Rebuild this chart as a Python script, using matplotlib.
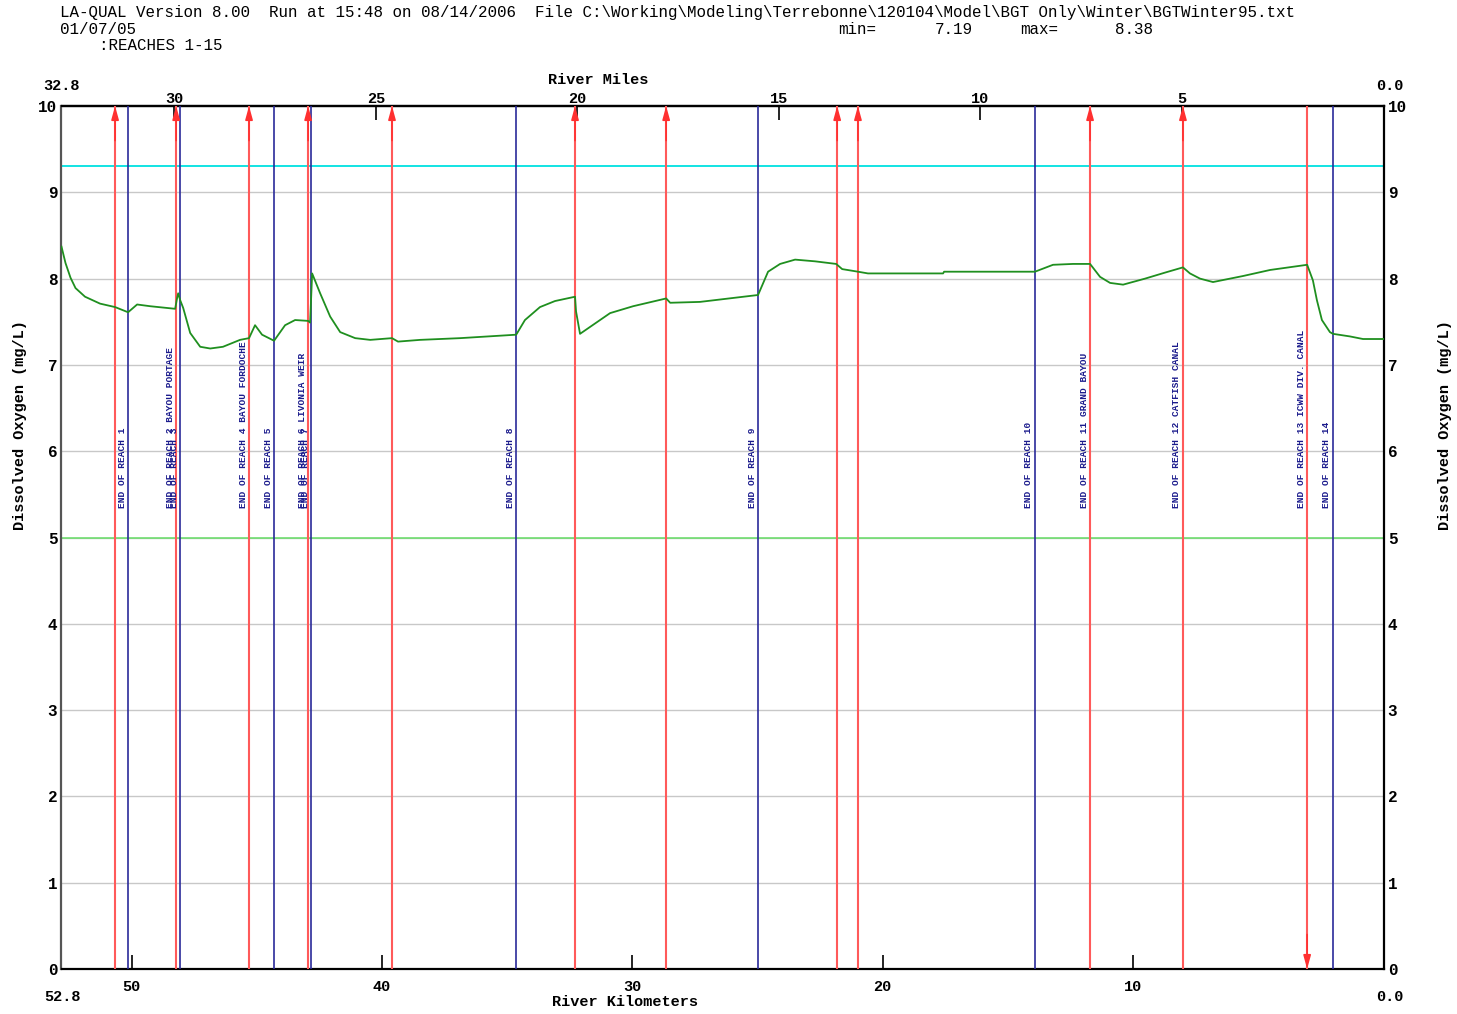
import matplotlib
matplotlib.use("Agg")
import matplotlib.pyplot as plt
import numpy as np

# ---------------- data ----------------
header_line1 = "LA-QUAL Version 8.00  Run at 15:48 on 08/14/2006  File C:\\Working\\Modeling\\Terrebonne\\120104\\Model\\BGT Only\\Winter\\BGTWinter95.txt"
header_date = "01/07/05"
header_reaches = ":REACHES 1-15"
do_min = "7.19"
do_max = "8.38"

km_max = 52.8
mi_max = 32.8

# dissolved oxygen profile (river km, mg/L)
do_km = [52.80, 52.64, 52.44, 52.24, 51.86, 51.26, 50.66, 50.14, 49.78, 49.26,
         48.26, 48.18, 48.14, 48.06, 47.94, 47.66, 47.26, 46.86, 46.35, 45.67,
         45.31, 45.07, 44.79, 44.31, 43.87, 43.47, 42.95, 42.87, 42.79, 42.47,
         42.07, 41.67, 41.07, 40.47, 39.60, 39.36, 38.48, 36.88, 34.64, 34.29,
         33.69, 33.09, 32.29, 32.25, 32.09, 31.69, 30.89, 29.97, 28.65, 28.49,
         27.30, 24.98, 24.58, 24.10, 23.50, 22.70, 21.86, 21.62, 20.99, 20.59,
         17.59, 17.55, 13.92, 13.20, 12.40, 11.72, 11.32, 10.92, 10.40, 9.52,
         8.72, 8.01, 7.73, 7.33, 6.81, 5.61, 4.53, 3.05, 2.82, 2.66,
         2.46, 2.14, 2.02, 1.34, 0.82, 0.00]
do_val = [8.37, 8.18, 8.01, 7.89, 7.79, 7.71, 7.67, 7.61, 7.70, 7.68,
          7.65, 7.78, 7.83, 7.75, 7.66, 7.37, 7.21, 7.19, 7.21, 7.29,
          7.31, 7.46, 7.35, 7.28, 7.46, 7.52, 7.51, 7.49, 8.06, 7.83,
          7.56, 7.38, 7.31, 7.29, 7.31, 7.27, 7.29, 7.31, 7.35, 7.52,
          7.67, 7.74, 7.79, 7.62, 7.36, 7.44, 7.60, 7.68, 7.77, 7.72,
          7.73, 7.81, 8.08, 8.17, 8.22, 8.20, 8.17, 8.11, 8.08, 8.06,
          8.06, 8.08, 8.08, 8.16, 8.17, 8.17, 8.02, 7.95, 7.93, 8.00,
          8.07, 8.13, 8.06, 8.00, 7.96, 8.03, 8.10, 8.16, 7.98, 7.75,
          7.52, 7.38, 7.36, 7.33, 7.30, 7.30]

# inflow (up arrow) and withdrawal (down arrow) locations, river km
inflow_km = [50.66, 48.22, 45.31, 42.95, 39.60, 32.29, 28.65, 21.82, 20.99, 11.72, 8.01]
withdrawal_km = [3.05]

# end-of-reach markers (blue lines), river km
reach_end_km = [50.14, 48.06, 44.31, 42.83, 34.64, 24.98, 13.92, 2.02]

# reach labels and the river km of the line they annotate
reach_labels = ["END OF REACH 1", "END OF REACH 2 BAYOU PORTAGE", "END OF REACH 3",
                "END OF REACH 4 BAYOU FORDOCHE", "END OF REACH 5",
                "END OF REACH 6 LIVONIA WEIR", "END OF REACH 7", "END OF REACH 8",
                "END OF REACH 9", "END OF REACH 10", "END OF REACH 11 GRAND BAYOU",
                "END OF REACH 12 CATFISH CANAL", "END OF REACH 13 ICWW DIV. CANAL",
                "END OF REACH 14"]
reach_label_km = [50.14, 48.22, 48.06, 45.31, 44.31, 42.95, 42.83, 34.64,
                  24.98, 13.92, 11.72, 8.01, 3.05, 2.02]

criterion_do = 5.0
saturation_do = 9.3

km_ticks = [50, 40, 30, 20, 10]
mi_ticks = [30, 25, 20, 15, 10, 5]
y_ticks = list(range(0, 11))

# ---------------- figure ----------------
MONO = ["Liberation Mono", "DejaVu Sans Mono"]
fig = plt.figure(figsize=(14.57, 10.14), dpi=100)
W, H = 1457, 1014
ax = fig.add_axes([61.5 / W, 1 - 969 / H, (1383.5 - 61.5) / W, (969 - 106) / H])

ax.set_xlim(km_max, 0)
ax.set_ylim(0, 10)

# grid
for yv in y_ticks[1:-1]:
    ax.axhline(yv, color="#c8c8c8", lw=1.0, zorder=1)

ax.axhline(saturation_do, color="#00e0e0", lw=1.3, zorder=2)
ax.axhline(criterion_do, color="#66dd66", lw=1.1, zorder=2)

# inflow arrows
for k in inflow_km:
    ax.plot([k, k], [0, 10], color="#ff5a5a", lw=1.5, zorder=3)
    ax.annotate("", xy=(k, 10), xytext=(k, 9.6),
                arrowprops=dict(arrowstyle="-|>,head_length=0.8,head_width=0.22",
                                color="#ff3030", lw=1.2, shrinkA=0, shrinkB=0),
                zorder=4)
for k in withdrawal_km:
    ax.plot([k, k], [0, 10], color="#ff5a5a", lw=1.5, zorder=3)
    ax.annotate("", xy=(k, 0), xytext=(k, 0.4),
                arrowprops=dict(arrowstyle="-|>,head_length=0.8,head_width=0.22",
                                color="#ff3030", lw=1.2, shrinkA=0, shrinkB=0),
                zorder=4)

for k in reach_end_km:
    ax.axvline(k, color="#2a2a9a", lw=1.2, zorder=3)

for lab, k in zip(reach_labels, reach_label_km):
    ax.annotate(lab, xy=(k, 5.34), xytext=(-6, 0), textcoords="offset pixels",
                rotation=90, ha="center", va="bottom", color="#1a1a8c",
                fontsize=6.8, fontweight="bold", family=MONO, zorder=5)

ax.plot(do_km, do_val, color="#1f8f1f", lw=1.3, zorder=6)

# spines
for s in ["top", "bottom", "right"]:
    ax.spines[s].set_color("black")
    ax.spines[s].set_linewidth(1.6)
ax.spines["left"].set_color("#555555")
ax.spines["left"].set_linewidth(1.6)

# bottom km ticks
ax.set_xticks(km_ticks)
ax.set_xticklabels([str(t) for t in km_ticks], family=MONO, fontsize=11, fontweight="bold")
ax.tick_params(axis="x", direction="in", length=10, width=1.2, pad=8, color="black")

# y ticks both sides
ax.set_yticks(y_ticks)
ax.set_yticklabels([str(t) for t in y_ticks], family=MONO, fontsize=11.5, fontweight="bold")
ax.tick_params(axis="y", length=0, pad=3, left=True, right=True, labelleft=True, labelright=True)
for lbl in ax.get_yticklabels(which="both"):
    lbl.set_family(MONO)

# top miles axis
ratio = mi_max / km_max
sec = ax.secondary_xaxis("top", functions=(lambda x: x * ratio, lambda m: m / ratio))
sec.set_xticks(mi_ticks)
sec.set_xticklabels([str(t) for t in mi_ticks], family=MONO, fontsize=11, fontweight="bold")
sec.tick_params(direction="in", length=10, width=1.2, pad=0, color="black")
sec.spines["top"].set_linewidth(1.6)

# corner labels
def ftext(x, y, s, **kw):
    fig.text(x / W, 1 - y / H, s, family=MONO, **kw)

ftext(62, 86, f"{mi_max:.1f}", fontsize=11, fontweight="bold", ha="center", va="center")
ftext(1390, 86, "0.0", fontsize=11, fontweight="bold", ha="center", va="center")
ftext(62, 997, f"{km_max:.1f}", fontsize=11, fontweight="bold", ha="center", va="center")
ftext(1390, 997, "0.0", fontsize=11, fontweight="bold", ha="center", va="center")
ftext(598, 80, "River Miles", fontsize=11, fontweight="bold", ha="center", va="center")
ftext(625, 1002, "River Kilometers", fontsize=11, fontweight="bold", ha="center", va="center")
ftext(20, 425, "Dissolved Oxygen (mg/L)", fontsize=11, fontweight="bold",
      ha="center", va="center", rotation=90)
ftext(1445, 425, "Dissolved Oxygen (mg/L)", fontsize=11, fontweight="bold",
      ha="center", va="center", rotation=90)

# header
ftext(60, 12, header_line1, fontsize=11.4, ha="left", va="center")
ftext(60, 29, header_date, fontsize=11.4, ha="left", va="center")
ftext(838, 29, "min=", fontsize=11.4, ha="left", va="center")
ftext(935, 29, do_min, fontsize=11.4, ha="left", va="center")
ftext(1020, 29, "max=", fontsize=11.4, ha="left", va="center")
ftext(1115, 29, do_max, fontsize=11.4, ha="left", va="center")
ftext(99, 46, header_reaches, fontsize=11.4, ha="left", va="center")

fig.savefig("out.png", dpi=100, facecolor="white")
